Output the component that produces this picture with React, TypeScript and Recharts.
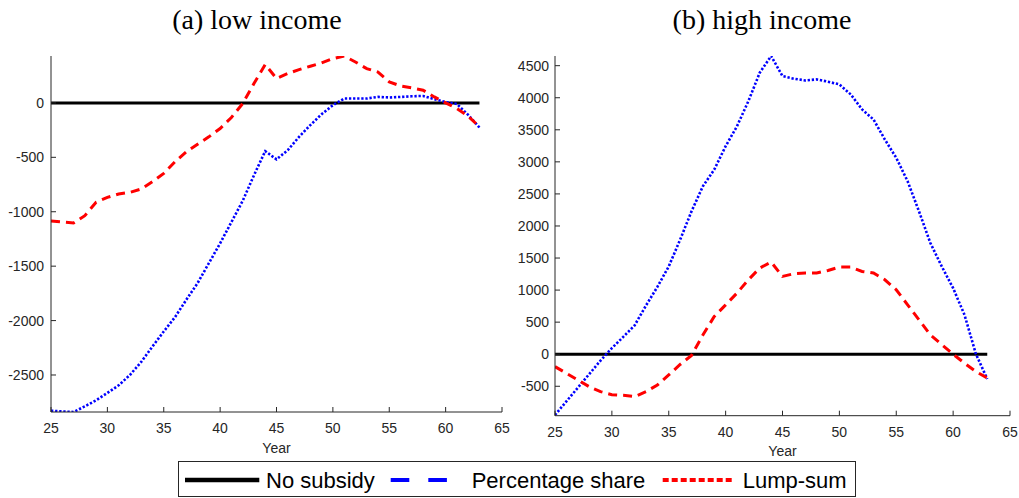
import React from 'react';
import { LineChart, Line, XAxis, YAxis } from 'recharts';

const years = [25, 26, 27, 28, 29, 30, 31, 32, 33, 34, 35, 36, 37, 38, 39, 40, 41, 42, 43, 44, 45, 46, 47, 48, 49, 50, 51, 52, 53, 54, 55, 56, 57, 58, 59, 60, 61, 62, 63];

const noSubsidy = [0, 0, 0, 0, 0, 0, 0, 0, 0, 0, 0, 0, 0, 0, 0, 0, 0, 0, 0, 0, 0, 0, 0, 0, 0, 0, 0, 0, 0, 0, 0, 0, 0, 0, 0, 0, 0, 0, 0];

const lowPercentage = [-2828, -2835, -2840, -2788, -2733, -2665, -2595, -2500, -2380, -2238, -2100, -1968, -1809, -1656, -1473, -1290, -1095, -900, -665, -443, -519, -434, -312, -204, -104, -21, 40, 40, 40, 55, 50, 55, 61, 64, 34, 8, -10, -110, -226];

const lowLumpSum = [-1085, -1094, -1103, -1036, -913, -868, -837, -822, -791, -724, -648, -541, -449, -379, -312, -235, -134, -6, 178, 352, 224, 270, 306, 337, 367, 407, 431, 376, 315, 284, 193, 156, 138, 117, 55, 0, -51, -122, -220];

const highPercentage = [-948, -736, -524, -312, -100, 95, 270, 450, 760, 1050, 1369, 1786, 2228, 2619, 2880, 3244, 3556, 3947, 4391, 4651, 4337, 4297, 4270, 4286, 4250, 4208, 4052, 3817, 3661, 3348, 3063, 2697, 2228, 1734, 1369, 1031, 614, 5, -386];

const highLumpSum = [-194, -297, -402, -506, -584, -631, -641, -662, -584, -480, -323, -160, -20, 300, 588, 770, 953, 1161, 1344, 1437, 1213, 1255, 1266, 1266, 1306, 1359, 1359, 1291, 1266, 1161, 1005, 770, 536, 302, 150, 0, -140, -270, -370];

const xTicks = [25, 30, 35, 40, 45, 50, 55, 60, 65];
const lowTicks = [-2500, -2000, -1500, -1000, -500, 0];
const highTicks = [-500, 0, 500, 1000, 1500, 2000, 2500, 3000, 3500, 4000, 4500];

const seriesNames = ['No subsidy', 'Percentage share', 'Lump-sum'];
const panelTitles = ['(a) low income', '(b) high income'];
const xLabel = 'Year';

const lowData = years.map((y, i) => ({ year: y, none: noSubsidy[i], pct: lowPercentage[i], lump: lowLumpSum[i] }));
const highData = years.map((y, i) => ({ year: y, none: noSubsidy[i], pct: highPercentage[i], lump: highLumpSum[i] }));

const sans = '"Liberation Sans", Arial, Helvetica, sans-serif';
const axisColor = '#262626';
const tickStyle = { fill: axisColor, fontSize: 14, fontFamily: sans };

function Panel({ data, yDomain, yTicks, yWidth, marginRight, marginBottom, yTickMargin, labelOffset }: any) {
  return (
    <LineChart
      width={yWidth === 51 ? 510 : 509}
      height={498}
      data={data}
      margin={{ top: 56, right: marginRight, bottom: marginBottom, left: 0 }}
      style={{ fontFamily: sans }}
    >
      <XAxis
        dataKey="year"
        type="number"
        domain={[25, 65]}
        ticks={xTicks}
        height={30}
        tickSize={-5}
        tickMargin={16.4}
        tick={tickStyle}
        axisLine={{ stroke: axisColor, strokeWidth: 1 }}
        tickLine={{ stroke: axisColor, strokeWidth: 1 }}
        allowDataOverflow
        label={{ value: xLabel, position: 'bottom', offset: labelOffset, fill: axisColor, fontSize: 14, fontFamily: sans }}
      />
      <YAxis
        type="number"
        domain={yDomain}
        ticks={yTicks}
        width={yWidth}
        tickSize={-5}
        tickMargin={yTickMargin}
        tick={tickStyle}
        axisLine={{ stroke: axisColor, strokeWidth: 1 }}
        tickLine={{ stroke: axisColor, strokeWidth: 1 }}
        allowDataOverflow
      />
      <Line dataKey="none" name={seriesNames[0]} stroke="#000000" strokeWidth={3} dot={false} activeDot={false} isAnimationActive={false} type="linear" />
      <Line dataKey="pct" name={seriesNames[1]} stroke="#0000ff" strokeWidth={2.6} strokeDasharray="2.3 1.8" dot={false} activeDot={false} isAnimationActive={false} type="linear" />
      <Line dataKey="lump" name={seriesNames[2]} stroke="#ff0000" strokeWidth={3} strokeDasharray="9 6" dot={false} activeDot={false} isAnimationActive={false} type="linear" />
    </LineChart>
  );
}

export default function App() {
  return (
    <div style={{ position: 'absolute', left: 0, top: 0, width: 1019, height: 498, background: '#ffffff', overflow: 'hidden' }}>
      <div style={{ position: 'absolute', left: 0, top: 0 }}>
        <Panel data={lowData} yDomain={[-2840, 431]} yTicks={lowTicks} yWidth={51} marginRight={8} marginBottom={56} yTickMargin={12} labelOffset={0.8} />
      </div>
      <div style={{ position: 'absolute', left: 510, top: 0 }}>
        <Panel data={highData} yDomain={[-959, 4651]} yTicks={highTicks} yWidth={45} marginRight={9} marginBottom={52.3} yTickMargin={11} labelOffset={0.4} />
      </div>
      <svg width={1019} height={498} style={{ position: 'absolute', left: 0, top: 0, pointerEvents: 'none' }}>
        <text x={257} y={29} textAnchor="middle" fontFamily='"Liberation Serif", "Times New Roman", serif' fontSize={28} fill="#000">{panelTitles[0]}</text>
        <text x={762} y={29} textAnchor="middle" fontFamily='"Liberation Serif", "Times New Roman", serif' fontSize={28} fill="#000">{panelTitles[1]}</text>
        <rect x={178.5} y={461.5} width={677} height={35} fill="#ffffff" stroke={axisColor} strokeWidth={1} />
        <line x1={185} y1={480} x2={259.3} y2={480} stroke="#000000" strokeWidth={4.5} />
        <text x={266} y={488.3} fontFamily={sans} fontSize={22} fill="#000">{seriesNames[0]}</text>
        <line x1={390.7} y1={480} x2={464.7} y2={480} stroke="#0000ff" strokeWidth={4} strokeDasharray="18.6 19" />
        <text x={471.7} y={488.3} fontFamily={sans} fontSize={22} fill="#000">{seriesNames[1]}</text>
        <line x1={662.7} y1={480} x2={731.7} y2={480} stroke="#ff0000" strokeWidth={4} strokeDasharray="6 3" />
        <text x={742.7} y={488.3} fontFamily={sans} fontSize={22} fill="#000">{seriesNames[2]}</text>
      </svg>
    </div>
  );
}
